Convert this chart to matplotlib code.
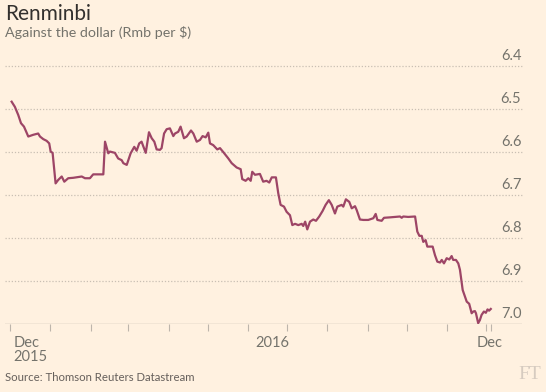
import pandas as pd
import matplotlib.pyplot as plt
from matplotlib.transforms import offset_copy

# days after 1 Dec 2015
days = [1.3, 3.8, 6.4, 8.5, 10.8, 14.1, 17.9, 21.7, 23.1, 25.6, 28.2, 30.2, 31.3, 32.8,
        35.1, 37.1, 39.8, 41.8, 44.8, 48.7, 55.2, 57.7, 61.5, 64.0, 71.8, 73.1, 75.6,
        76.9, 80.7, 83.2, 85.9, 87.2, 89.8, 92.8, 95.6, 97.4, 99.4, 101.2, 104.4, 106.9,
        109.0, 111.0, 112.8, 115.3, 116.6, 118.5, 120.5, 123.0, 125.6, 126.9, 129.4,
        131.2, 133.8, 135.9, 139.2, 141.0, 143.6, 146.1, 148.1, 150.5, 152.5, 153.8,
        156.3, 159.4, 161.5, 164.5, 167.9, 170.5, 174.3, 177.4, 178.6, 181.2, 183.3,
        185.1, 186.3, 188.4, 192.2, 194.7, 197.3, 199.4, 201.3, 204.5, 206.3, 208.1,
        210.7, 212.7, 215.3, 217.1, 219.2, 221.7, 224.3, 225.5, 227.0, 228.6, 230.7,
        233.2, 235.3, 237.8, 240.4, 242.7, 245.2, 247.4, 249.9, 251.7, 255.0, 256.3,
        258.3, 260.9, 262.8, 265.3, 266.6, 269.1, 271.7, 275.5, 279.4, 281.2, 282.5,
        285.8, 287.6, 292.2, 299.9, 301.2, 302.4, 306.2, 311.5, 313.2, 314.8, 316.6,
        317.8, 319.6, 320.9, 325.0, 326.8, 328.6, 330.7, 332.0, 333.7, 335.8, 337.8,
        339.6, 340.8, 342.9, 344.7, 346.0, 348.1, 349.9, 351.2, 353.1, 355.0, 356.2,
        357.5, 358.3, 360.0, 361.3, 362.6, 364.4, 365.9, 367.2, 368.4, 369.7]
rmb = [6.483, 6.495, 6.514, 6.533, 6.541, 6.564, 6.560, 6.557, 6.564, 6.570, 6.574,
       6.580, 6.599, 6.602, 6.673, 6.665, 6.657, 6.669, 6.661, 6.660, 6.657, 6.661,
       6.661, 6.652, 6.652, 6.576, 6.603, 6.599, 6.602, 6.615, 6.619, 6.626, 6.630,
       6.603, 6.588, 6.597, 6.580, 6.576, 6.602, 6.554, 6.568, 6.576, 6.594, 6.595,
       6.591, 6.557, 6.547, 6.545, 6.563, 6.557, 6.553, 6.541, 6.568, 6.564, 6.550,
       6.557, 6.576, 6.572, 6.563, 6.566, 6.555, 6.580, 6.584, 6.594, 6.591, 6.602,
       6.615, 6.626, 6.636, 6.640, 6.663, 6.667, 6.661, 6.667, 6.646, 6.653, 6.651,
       6.669, 6.667, 6.671, 6.659, 6.659, 6.696, 6.723, 6.727, 6.739, 6.747, 6.770,
       6.767, 6.770, 6.767, 6.772, 6.762, 6.780, 6.762, 6.757, 6.760, 6.750, 6.737,
       6.723, 6.712, 6.723, 6.743, 6.727, 6.723, 6.727, 6.710, 6.716, 6.731, 6.726,
       6.735, 6.757, 6.758, 6.758, 6.754, 6.744, 6.758, 6.760, 6.753, 6.752, 6.750,
       6.753, 6.750, 6.751, 6.750, 6.785, 6.795, 6.795, 6.809, 6.805, 6.820, 6.820,
       6.840, 6.855, 6.857, 6.851, 6.859, 6.847, 6.850, 6.842, 6.851, 6.851, 6.859,
       6.874, 6.921, 6.937, 6.948, 6.953, 6.975, 6.971, 6.970, 6.975, 6.998, 6.991,
       6.979, 6.971, 6.974, 6.966, 6.969, 6.965]
y_ticks = [6.4, 6.5, 6.6, 6.7, 6.8, 6.9, 7.0]
y_labels = ['6.4', '6.5', '6.6', '6.7', '6.8', '6.9', '7.0']

bg = '#fff1e0'
grey = '#74736c'
plt.rcParams['font.family'] = ['Lato', 'DejaVu Sans']

start = pd.Timestamp('2015-12-01')
dates = start + pd.to_timedelta(days, unit='D')
months = pd.date_range('2015-12-01', '2016-12-01', freq='MS')

W, H = 546, 392
fig = plt.figure(figsize=(W / 100, H / 100), dpi=100, facecolor=bg)
ax = fig.add_axes([5 / W, 1 - 324 / H, 517 / W, 258 / H], facecolor=bg)

ax.plot(dates, rmb, color='#9d4566', lw=1.6, solid_joinstyle='round', zorder=3)

ax.set_ylim(7.0, 6.4)
ax.set_xlim(start - pd.Timedelta(days=3.8), start + pd.Timedelta(days=393.7))

for v in y_ticks[:-1]:
    ax.axhline(v, color='#c9bfb3', lw=0.9, ls=(0, (1, 1.5)), zorder=1, clip_on=False)
ax.axhline(7.0, color='#bdb5ab', lw=1, zorder=2)

ylab_tr = offset_copy(ax.get_yaxis_transform(), fig=fig, x=-0.5, y=2.5, units='points')
for v, s in zip(y_ticks, y_labels):
    ax.text(1.0, v, s, transform=ylab_tr, ha='right', va='bottom',
            fontsize=10.5, color=grey)

for s in ax.spines.values():
    s.set_visible(False)
ax.set_yticks([])
ticks = list(months) + [dates[-1]]
ax.set_xticks(ticks)
ax.set_xticklabels([])
ax.tick_params(axis='x', length=5, width=0.8, color='#bdb5ab', direction='out')

xtr = ax.get_xaxis_transform()
ax.text(months[0], 0, 'Dec\n2015', transform=offset_copy(xtr, fig=fig, x=2.5, y=-8.5, units='points'),
        ha='left', va='top', fontsize=10.5, color=grey, linespacing=1.0)
ax.text(months[6], 0, '2016', transform=offset_copy(xtr, fig=fig, x=5, y=-8.5, units='points'),
        ha='left', va='top', fontsize=10.5, color=grey)
ax.text(months[12], 0, 'Dec', transform=offset_copy(xtr, fig=fig, x=2.5, y=-8.5, units='points'),
        ha='center', va='top', fontsize=10.5, color=grey)

fig.text(5 / W, 1 - 4 / H, 'Renminbi', ha='left', va='top', fontsize=15, color='#33302e')
fig.text(5 / W, 1 - 26 / H, 'Against the dollar (Rmb per $)', ha='left', va='top',
         fontsize=10.3, color=grey)
fig.text(5 / W, 1 - 372 / H, 'Source: Thomson Reuters Datastream', ha='left', va='top',
         fontsize=8.2, color='#66605c')
fig.text(541 / W, 1 - 366 / H, 'FT', ha='right', va='top', fontsize=14,
         family='Liberation Serif', color='#d6cbc0')

fig.savefig('out.png', dpi=100, facecolor=bg)
